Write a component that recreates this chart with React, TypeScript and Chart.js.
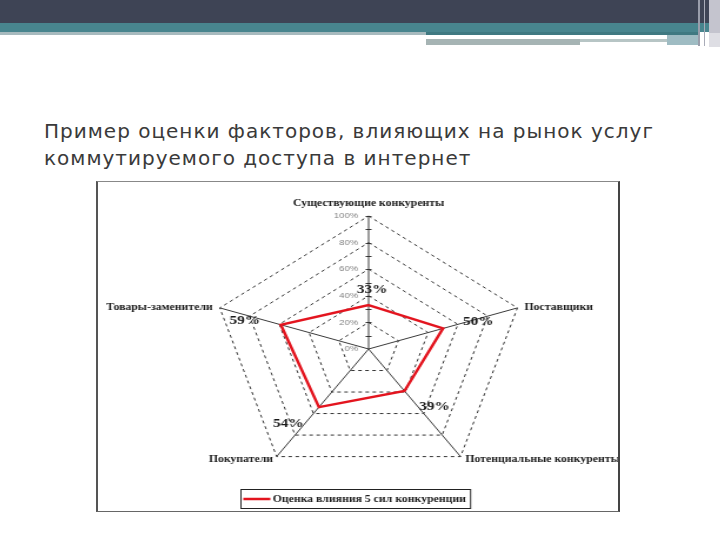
import React, { useEffect, useRef } from "react";
import { Chart, registerables } from "chart.js";

Chart.register(...registerables);

const titleLines = [
  "Пример оценки факторов, влияющих на рынок услуг",
  "коммутируемого доступа в интернет",
];
const categories = [
  "Существующие конкуренты",
  "Поставщики",
  "Потенциальные конкуренты",
  "Покупатели",
  "Товары-заменители",
];
const seriesName = "Оценка влияния 5 сил конкуренции";
const seriesValues = [33, 50, 39, 54, 59];
const valueLabels = ["33%", "50%", "39%", "54%", "59%"];
const tickValues = [0, 20, 40, 60, 80, 100];
const tickLabels = ["0%", "20%", "40%", "60%", "80%", "100%"];

// layout helpers (not data)
const INNER_W = 442;
const INNER_H = 329;
const STRETCH = 520 / INNER_W;
const VALUE_LABEL_OFFSETS: [number, number][] = [
  [3, -15],
  [30, -6.5],
  [25.5, 16],
  [-26, 17],
  [-30.5, -4],
];
const RED = "#e3141e";
const SERIF = "'Liberation Serif', 'Times New Roman', serif";

const overlayPlugin = {
  id: "overlay",
  beforeDatasetsDraw(chart: any) {
    const ctx = chart.ctx as CanvasRenderingContext2D;
    const s = chart.scales.r;
    const cx = s.xCenter;
    const cy = s.yCenter;
    ctx.save();
    // small tick marks on the first axis
    ctx.strokeStyle = "#333";
    ctx.lineWidth = 1;
    for (let v = 10; v <= 100; v += 10) {
      const p = s.getPointPositionForValue(0, v);
      const y = Math.round(p.y) + 0.5;
      ctx.beginPath();
      ctx.moveTo(p.x - 2.5, y);
      ctx.lineTo(p.x + 2.5, y);
      ctx.stroke();
    }
    // tick labels
    ctx.font = "8px 'Liberation Sans', Arial, sans-serif";
    ctx.fillStyle = "#808080";
    ctx.textAlign = "right";
    ctx.textBaseline = "middle";
    tickValues.forEach((v, i) => {
      const p = s.getPointPositionForValue(0, v);
      ctx.fillText(tickLabels[i], p.x - 9, p.y);
    });
    // point labels
    ctx.font = `bold 10px ${SERIF}`;
    ctx.fillStyle = "#1a1a1a";
    chart.data.labels.forEach((label: string, i: number) => {
      const p = s.getPointPositionForValue(i, s.max);
      const dx = p.x - cx;
      const dy = p.y - cy;
      let x = p.x;
      let y = p.y;
      if (Math.abs(dx) < 1) {
        ctx.textAlign = "center";
        ctx.textBaseline = "bottom";
        y -= 8;
      } else if (dy < 0) {
        ctx.textAlign = dx > 0 ? "left" : "right";
        ctx.textBaseline = "middle";
        x += dx > 0 ? 6 : -6;
      } else {
        ctx.textAlign = dx > 0 ? "left" : "right";
        ctx.textBaseline = "top";
        x += dx > 0 ? 4 : -3;
        y -= 2;
      }
      ctx.fillText(label, x, y);
    });
    ctx.restore();
  },
  afterDatasetsDraw(chart: any) {
    const ctx = chart.ctx as CanvasRenderingContext2D;
    const s = chart.scales.r;
    const ds = chart.data.datasets[0];
    ctx.save();
    // value labels
    ctx.font = `bold 13px ${SERIF}`;
    ctx.fillStyle = "#1a1a1a";
    ctx.textAlign = "center";
    ctx.textBaseline = "middle";
    ds.data.forEach((v: number, i: number) => {
      const p = s.getPointPositionForValue(i, v);
      const [ox, oy] = VALUE_LABEL_OFFSETS[i];
      ctx.fillText(valueLabels[i], p.x + ox, p.y + oy);
    });
    // legend
    ctx.font = `bold 10px ${SERIF}`;
    const tw = ctx.measureText(ds.label).width;
    const lineLen = 22;
    const boxW = 3 + lineLen + 2 + tw + 4;
    const boxH = 19;
    const bx = Math.round(chart.width / 2 - 2 - boxW / 2) + 0.5;
    const by = chart.height - 22 + 0.5;
    ctx.strokeStyle = "#222";
    ctx.lineWidth = 1;
    ctx.strokeRect(bx, by, boxW, boxH);
    const my = by + boxH / 2;
    ctx.strokeStyle = ds.borderColor;
    ctx.lineWidth = 2.5;
    ctx.beginPath();
    ctx.moveTo(bx + 2, my);
    ctx.lineTo(bx + 3 + lineLen, my);
    ctx.stroke();
    ctx.fillStyle = "#1a1a1a";
    ctx.textAlign = "left";
    ctx.textBaseline = "middle";
    ctx.fillText(ds.label, bx + 3 + lineLen + 2, my + 0.5);
    ctx.restore();
  },
};

function RadarChart() {
  const ref = useRef<HTMLCanvasElement | null>(null);
  useEffect(() => {
    if (!ref.current) return;
    const chart = new Chart(ref.current, {
      type: "radar",
      data: {
        labels: categories,
        datasets: [
          {
            label: seriesName,
            data: seriesValues,
            borderColor: RED,
            backgroundColor: "rgba(0,0,0,0)",
            borderWidth: 2.5,
            fill: false,
            pointRadius: 0,
            pointHoverRadius: 0,
            tension: 0,
          },
        ],
      },
      options: {
        animation: false,
        responsive: true,
        maintainAspectRatio: false,
        devicePixelRatio: 1,
        layout: { padding: { left: 30, right: 12, top: 34, bottom: 29 } },
        plugins: {
          legend: { display: false },
          tooltip: { enabled: false },
          title: { display: false },
        },
        scales: {
          r: {
            min: 0,
            max: 100,
            ticks: { display: false, stepSize: 20 },
            pointLabels: { display: false },
            grid: { circular: false, color: "#333", lineWidth: 1 },
            border: { dash: [3, 3] },
            angleLines: { display: true, color: "#3a3a3a", lineWidth: 1 },
          },
        },
      },
      plugins: [overlayPlugin],
    });
    return () => chart.destroy();
  }, []);
  return (
    <div
      style={{
        position: "absolute",
        left: 0,
        top: 0,
        width: INNER_W,
        height: INNER_H,
        transform: `scaleX(${STRETCH})`,
        transformOrigin: "0 0",
      }}
    >
      <canvas ref={ref} />
    </div>
  );
}

export default function App() {
  const abs = (s: React.CSSProperties): React.CSSProperties => ({ position: "absolute", ...s });
  return (
    <div style={abs({ left: 0, top: 0, width: 720, height: 540, background: "#fff", overflow: "hidden" })}>
      {/* header decoration */}
      <div style={abs({ left: 0, top: 0, width: 720, height: 23, background: "#3e4455" })} />
      <div style={abs({ left: 0, top: 23, width: 720, height: 9, background: "#48858e" })} />
      <div style={abs({ left: 0, top: 32, width: 426, height: 3, background: "#a7babe" })} />
      <div style={abs({ left: 426, top: 32, width: 272, height: 3, background: "#3f7981" })} />
      <div style={abs({ left: 426, top: 39, width: 154, height: 6, background: "#a6b4b4" })} />
      <div style={abs({ left: 580, top: 39, width: 87, height: 3, background: "#b7c5c5" })} />
      <div style={abs({ left: 667, top: 35, width: 31, height: 10, background: "#9fbcc3" })} />
      <div style={abs({ left: 698, top: 0, width: 2, height: 46, background: "#9a9eab" })} />
      <div style={abs({ left: 704, top: 0, width: 1, height: 46, background: "#a9acb8" })} />
      <div style={abs({ left: 709, top: 0, width: 11, height: 33, background: "#c4c4ce" })} />
      <div style={abs({ left: 709, top: 33, width: 11, height: 14, background: "#dedee4" })} />
      {/* title */}
      <div
        style={abs({
          left: 44,
          top: 118,
          fontFamily: "'DejaVu Sans', sans-serif",
          fontSize: 20,
          letterSpacing: "1px",
          lineHeight: "27px",
          color: "#3a3a3a",
          whiteSpace: "nowrap",
        })}
      >
        {titleLines.map((t) => (
          <div key={t}>{t}</div>
        ))}
      </div>
      {/* chart frame */}
      <div
        style={abs({
          left: 96,
          top: 181,
          width: 520,
          height: INNER_H,
          borderTop: "1px solid #888",
          borderBottom: "1px solid #666",
          borderLeft: "2px solid #555",
          borderRight: "2px solid #444",
          overflow: "hidden",
          background: "#fff",
        })}
      >
        <RadarChart />
      </div>
    </div>
  );
}
